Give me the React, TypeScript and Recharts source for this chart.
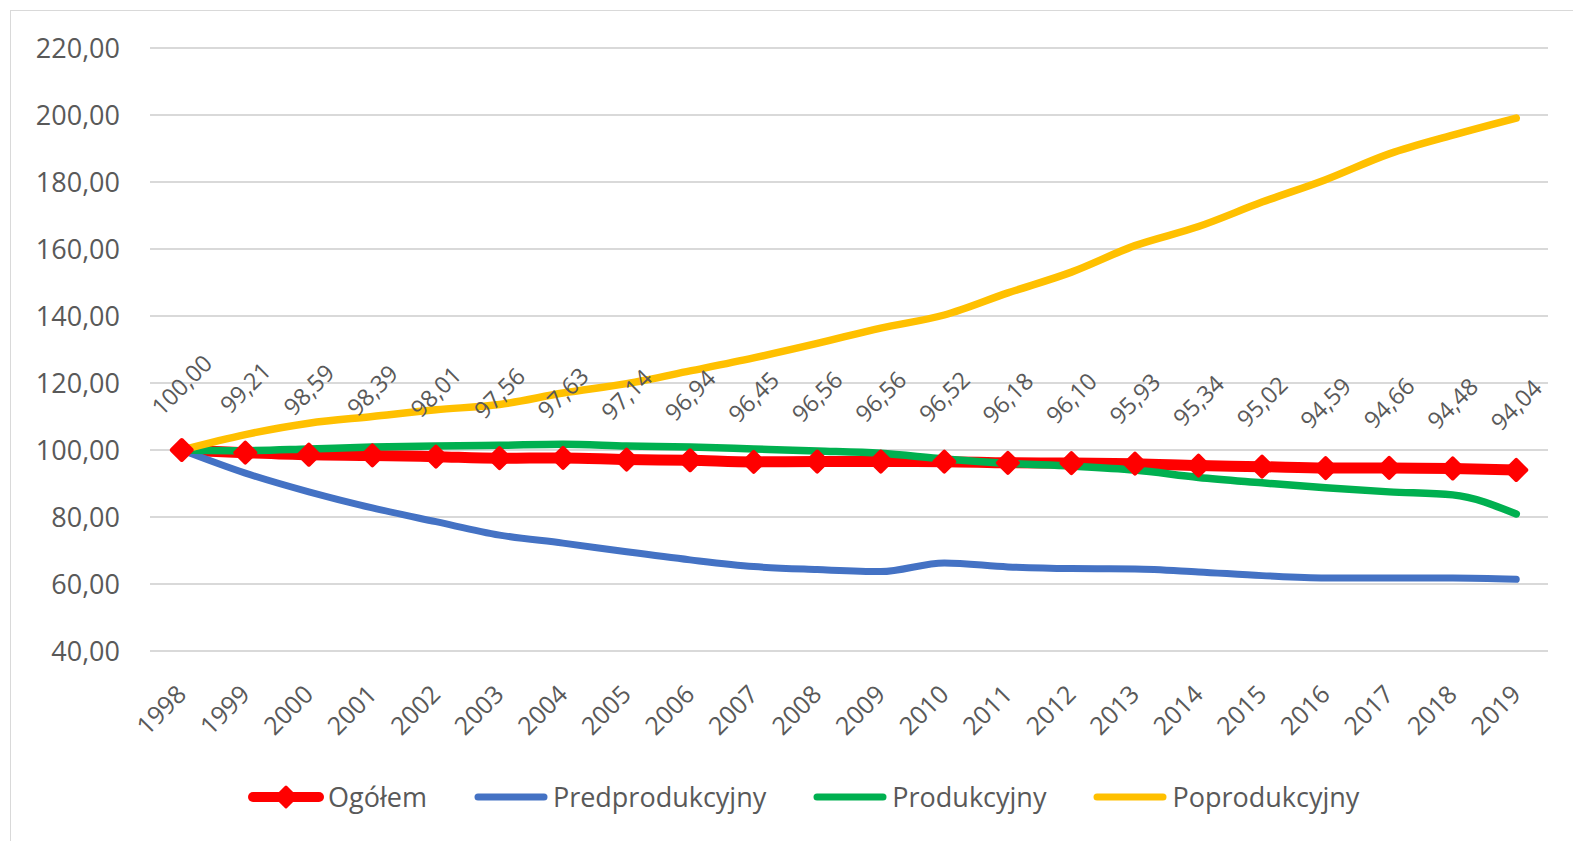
import React from 'react';
import { LineChart, Line, XAxis, YAxis, CartesianGrid, LabelList } from 'recharts';

const years = ['1998', '1999', '2000', '2001', '2002', '2003', '2004', '2005', '2006', '2007', '2008',
  '2009', '2010', '2011', '2012', '2013', '2014', '2015', '2016', '2017', '2018', '2019'];

const ogolem = [100.0, 99.21, 98.59, 98.39, 98.01, 97.56, 97.63, 97.14, 96.94, 96.45, 96.56,
  96.56, 96.52, 96.18, 96.1, 95.93, 95.34, 95.02, 94.59, 94.66, 94.48, 94.04];

const predprodukcyjny = [100, 93.1, 87.5, 82.7, 78.6, 74.6, 72.2, 69.6, 67.2, 65.2, 64.3,
  63.7, 66.3, 65.1, 64.6, 64.5, 63.6, 62.5, 61.8, 61.8, 61.8, 61.4];

const produkcyjny = [100, 99.8, 100.3, 100.9, 101.2, 101.4, 101.7, 101.2, 100.9, 100.3, 99.7,
  99.0, 97.3, 96.0, 95.2, 94.0, 91.8, 90.2, 88.7, 87.5, 86.6, 80.9];

const poprodukcyjny = [100, 104.6, 108.0, 110.0, 112.0, 113.6, 117.0, 119.8, 123.6, 127.5, 131.8,
  136.4, 140.3, 146.9, 153.1, 161.0, 166.7, 174.0, 180.7, 188.4, 194.0, 199.1];

const yTicks = [40, 60, 80, 100, 120, 140, 160, 180, 200, 220];

const legendItems = [
  { name: 'Ogółem', color: '#FF0000', marker: true },
  { name: 'Predprodukcyjny', color: '#4472C4', marker: false },
  { name: 'Produkcyjny', color: '#00B050', marker: false },
  { name: 'Poprodukcyjny', color: '#FFC000', marker: false },
];

const data = years.map((year, i) => ({
  year,
  ogolem: ogolem[i],
  predprodukcyjny: predprodukcyjny[i],
  produkcyjny: produkcyjny[i],
  poprodukcyjny: poprodukcyjny[i],
}));

const FONT = '"Open Sans", "Noto Sans", sans-serif';
const TEXT = '#595959';

const fmt = (v: number) => v.toFixed(2).replace('.', ',');

const Diamond = (props: any) => {
  const { cx, cy } = props;
  if (cx == null || cy == null) return null;
  const s = 10;
  return (
    <polygon
      points={`${cx},${cy - s} ${cx + s},${cy} ${cx},${cy + s} ${cx - s},${cy}`}
      fill="#FF0000"
      stroke="#FF0000"
      strokeWidth={4}
      strokeLinejoin="round"
    />
  );
};

const YearTick = (props: any) => {
  const { x, y, payload } = props;
  const ax = x + 6;
  const ay = y + 45;
  return (
    <text
      x={ax}
      y={ay}
      textAnchor="end"
      fill={TEXT}
      fontSize={25}
      fontFamily={FONT}
      transform={`rotate(-45, ${ax}, ${ay})`}
    >
      {payload.value}
    </text>
  );
};

const ValueLabel = (props: any) => {
  const { x, y, value } = props;
  const ax = x + 6;
  const ay = y - 59;
  return (
    <text
      x={ax}
      y={ay}
      textAnchor="middle"
      fill={TEXT}
      fontSize={23.5}
      fontFamily={FONT}
      transform={`rotate(-45, ${ax}, ${ay})`}
    >
      {fmt(value)}
    </text>
  );
};

export default function App() {
  return (
    <div style={{ position: 'absolute', left: 0, top: 0, width: 1573, height: 841, overflow: 'hidden', background: '#fff' }}>
      <div style={{ position: 'absolute', left: 10, top: 10, width: 1600, height: 900, border: '1px solid #d9d9d9' }} />
      <div style={{ position: 'absolute', left: 0, top: 0 }}>
        <LineChart width={1573} height={841} data={data} margin={{ top: 48, right: 25, left: 10, bottom: 90 }}>
          <CartesianGrid vertical={false} stroke="#d9d9d9" strokeWidth={2} />
          <XAxis
            dataKey="year"
            axisLine={false}
            tickLine={false}
            tickSize={0}
            tickMargin={0}
            height={100}
            interval={0}
            padding={{ left: 31.75, right: 31.75 }}
            tick={<YearTick />}
          />
          <YAxis
            domain={[40, 220]}
            ticks={yTicks}
            axisLine={false}
            tickLine={false}
            tickSize={0}
            tickMargin={30}
            width={140}
            interval={0}
            tickFormatter={fmt}
            tick={{ fill: TEXT, fontSize: 27, fontFamily: FONT }}
          />
          <Line
            type="monotone"
            dataKey="ogolem"
            stroke="#FF0000"
            strokeWidth={11}
            dot={<Diamond />}
            isAnimationActive={false}
          />
          <Line
            type="monotone"
            dataKey="predprodukcyjny"
            stroke="#4472C4"
            strokeWidth={7}
            strokeLinecap="round"
            dot={false}
            isAnimationActive={false}
          />
          <Line
            type="monotone"
            dataKey="produkcyjny"
            stroke="#00B050"
            strokeWidth={7.5}
            strokeLinecap="round"
            dot={false}
            isAnimationActive={false}
          />
          <Line
            type="monotone"
            dataKey="poprodukcyjny"
            stroke="#FFC000"
            strokeWidth={7.5}
            strokeLinecap="round"
            dot={false}
            isAnimationActive={false}
          />
          <Line
            type="monotone"
            dataKey="ogolem"
            stroke="none"
            dot={false}
            activeDot={false}
            isAnimationActive={false}
          >
            <LabelList dataKey="ogolem" content={<ValueLabel />} />
          </Line>
        </LineChart>
      </div>
      <div
        style={{
          position: 'absolute',
          left: 248,
          top: 778,
          display: 'flex',
          alignItems: 'center',
          fontFamily: FONT,
          fontSize: 27,
          color: TEXT,
          whiteSpace: 'nowrap',
        }}
      >
        {legendItems.map((item) => (
          <div key={item.name} style={{ display: 'flex', alignItems: 'center', marginRight: 46 }}>
            <svg width={76} height={26} style={{ marginRight: 4 }}>
              <line
                x1={5}
                y1={13}
                x2={71}
                y2={13}
                stroke={item.color}
                strokeWidth={item.marker ? 10 : 7}
                strokeLinecap="round"
              />
              {item.marker && (
                <polygon points="38,3 48,13 38,23 28,13" fill={item.color} stroke={item.color} strokeWidth={3} strokeLinejoin="round" />
              )}
            </svg>
            <span style={{ lineHeight: '38px' }}>{item.name}</span>
          </div>
        ))}
      </div>
    </div>
  );
}
